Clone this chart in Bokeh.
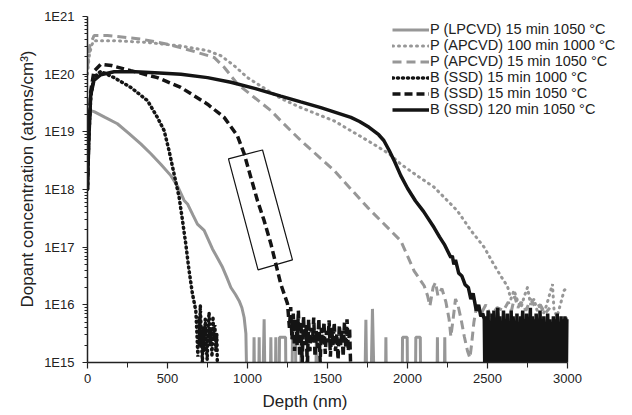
from bokeh.plotting import figure
from bokeh.models import FixedTicker, CustomJSTickFormatter, Legend, LegendItem, Title
from bokeh.embed import file_html
from bokeh.resources import INLINE

# ---------------- data (depth in nm, concentration in atoms/cm3) ----------------
LOW = 1e14  # below detection limit (drawn off the bottom of the axis)

lpcvd_depth = [0, 15, 41, 110, 187, 260, 333, 396, 458, 521, 562, 604, 625, 660, 687, 729, 760, 781,
               815, 844, 870, 896, 925, 948, 965, 979, 990, 1000,
               1036, 1041, 1046, 1068, 1073, 1078, 1092, 1104, 1112, 1140, 1146, 1152, 1172, 1177, 1182,
               1196, 1200, 1238, 1242, 1276, 1281, 1300, 1304, 1330, 1335, 1340, 1370, 1375, 1380,
               1425, 1430, 1435, 1730, 1740, 1748, 1768, 1781, 1796, 1860, 1865, 1870,
               1965, 1969, 1998, 2002, 2048, 2052, 2080, 2084, 2182, 2187, 2192, 2228, 2233, 2238]
lpcvd_conc = [1.41e19, 2.34e19, 2.24e19, 1.78e19, 1.38e19, 9.33e18, 6.17e18, 4.17e18, 2.75e18, 1.74e18,
              1.15e18, 6.46e17, 5.62e17, 3.55e17, 2.51e17, 1.95e17, 1.26e17, 9.33e16,
              6.31e16, 4.47e16, 3.02e16, 2.0e16, 1.51e16, 1.17e16, 8.91e15, 6.03e15, 3.16e15, LOW,
              LOW, 2.75e15, LOW, LOW, 2.75e15, LOW, LOW, 5.6e15, LOW, LOW, 2.75e15, LOW, LOW, 2.75e15, LOW,
              LOW, 2.75e15, 2.75e15, LOW, LOW, 2.75e15, 2.75e15, LOW, LOW, 2.75e15, LOW, LOW, 2.75e15, LOW,
              LOW, 2.75e15, LOW, LOW, 5.5e15, LOW, LOW, 8.5e15, LOW, LOW, 2.75e15, LOW,
              LOW, 2.75e15, 2.75e15, LOW, LOW, 2.75e15, 2.75e15, LOW, LOW, 2.75e15, LOW, LOW, 2.75e15, LOW]

apcvd100_depth = [0, 10, 25, 40, 166, 375, 583, 750, 833, 916, 1000, 1125, 1208, 1333, 1541, 1750, 1885,
                  1958, 2070, 2166, 2312, 2396, 2479, 2531, 2583, 2625, 2646,
                  2666, 2690, 2710, 2730, 2750, 2770, 2791, 2810, 2830, 2850, 2870, 2890, 2906, 2916,
                  2935, 2955, 2979, 3000]
apcvd100_conc = [1.0e20, 2.0e20, 3.16e20, 3.8e20, 3.8e20, 3.55e20, 3.09e20, 2.57e20, 2.09e20, 1.41e20,
                 8.71e19, 5.25e19, 3.8e19, 2.63e19, 1.55e19, 7.08e18, 4.17e18,
                 2.75e18, 1.66e18, 1.1e18, 4.27e17, 1.95e17, 1.0e17, 5.5e16, 3.16e16, 2.09e16, 1.26e16,
                 1.78e16, 1.12e16, 8.91e15, 1.41e16, 2.0e16, 1.0e16, 1.26e16, 7.94e15, 1.0e16, 7.08e15,
                 1.0e16, 1.58e16, 2.29e16, 7.94e15, 6.31e15, 1.0e16, 1.78e16, 2.0e16]

apcvd15_depth = [0, 15, 41, 125, 333, 500, 646, 791, 854, 937, 1041, 1146, 1208, 1333, 1541, 1750, 1958,
                 2041, 2104, 2125, 2140, 2160, 2175, 2190, 2215, 2240, 2260, 2271, 2285, 2300, 2315,
                 2335, 2355, 2375, 2390, 2400, 2415, 2430, 2460, 2490, 2520, 2560, 2600, 2630, 2650,
                 2670, 2690, 2710, 2740, 2770, 2800, 2830, 2860, 2890]
apcvd15_conc = [1.32e20, 3.16e20, 4.68e20, 4.68e20, 4.07e20, 3.31e20, 2.57e20, 1.95e20, 1.32e20, 6.76e19,
                3.98e19, 2.34e19, 1.55e19, 7.08e18, 2.14e18, 4.9e17, 1.29e17,
                3.89e16, 2.14e16, 1.45e16, 9.55e15, 2.0e16, 2.45e16, 1.45e16, 1.91e16, 1.12e16, 5.62e15,
                2.82e15, 5.62e15, 1.26e16, 1.0e16, 5.62e15, 2.82e15, 1.58e15, 1.2e15, 2.0e15, 5.01e15,
                8.91e15, 7.08e15, 1.0e16, 6.31e15, 8.91e15, 7.94e15, 1.12e16, 7.94e15,
                1.41e16, 8.91e15, 1.12e16, 7.94e15, 1.26e16, 8.91e15, 1.0e16, 7.08e15, 8.91e15]

ssd15_1000_depth = [0, 8, 20, 40, 83, 104, 166, 271, 375, 437, 479, 510, 541, 573, 594, 614, 635, 656, 677,
                    684, 690, 695, 700, 705, 712, 718, 724, 730, 736, 742, 748, 754, 760, 766, 772, 778,
                    784, 790, 796, 802, 808, 812]
ssd15_1000_conc = [1.0e18, 7.94e18, 3.98e19, 8.91e19, 1.12e20, 1.05e20, 8.71e19, 5.89e19, 3.47e19, 1.78e19,
                   1.05e19, 4.68e18, 1.86e18, 7.24e17, 2.88e17, 1.15e17, 3.89e16, 1.55e16, 7.94e15,
                   3.16e15, 1.26e15, 6.31e15, 2.0e15, 9.77e15, 2.51e15, 1.0e15, 3.98e15, 1.58e15, 5.62e15,
                   2.0e15, 1.12e15, 3.98e15, 7.41e15, 2.0e15, 3.98e15, 1.26e15, 6.31e15, 2.51e15, 4.47e15,
                   1.58e15, 3.16e15, 7.94e14]

ssd15_1050_depth = [0, 8, 20, 40, 83, 150, 271, 437, 583, 750, 854, 937, 979, 1021, 1062, 1104, 1146, 1177,
                    1208, 1250, 1262, 1270, 1278, 1286, 1294, 1302, 1310, 1318, 1326, 1334, 1342, 1350,
                    1358, 1366, 1374, 1382, 1390, 1398, 1406, 1414, 1422, 1430, 1438, 1446, 1454, 1462,
                    1470, 1478, 1486, 1494, 1502, 1510, 1518, 1526, 1534, 1542, 1550, 1558, 1566, 1574,
                    1582, 1590, 1598, 1606, 1614, 1622, 1630, 1638, 1645]
ssd15_1050_conc = [1.0e18, 7.94e18, 5.01e19, 1.12e20, 1.48e20, 1.41e20, 1.15e20, 8.71e19, 5.89e19, 3.02e19,
                   1.78e19, 8.51e18, 4.17e18, 1.62e18, 6.46e17, 2.88e17, 1.15e17, 5.13e16,
                   2.29e16, 1.05e16, 3.98e15, 9.12e15, 2.51e15, 7.08e15, 1.58e15, 5.62e15, 2.0e15, 7.94e15,
                   1.26e15, 5.01e15, 1.0e15, 6.31e15, 2.0e15, 4.47e15, 7.94e14, 5.62e15, 1.58e15, 3.98e15,
                   2.24e15, 6.03e15, 1.26e15, 3.55e15, 1.78e15, 5.75e15, 1.0e15, 3.98e15, 2.0e15, 5.01e15,
                   1.41e15, 3.55e15, 2.24e15, 5.37e15, 1.26e15, 3.98e15, 2.0e15, 4.9e15, 1.58e15, 3.16e15,
                   1.12e15, 4.47e15, 2.0e15, 3.55e15, 1.26e15, 5.01e15, 1.78e15, 5.62e15, 1.58e15, 3.98e15,
                   7.94e14]

ssd120_depth = [0, 8, 20, 40, 83, 166, 300, 450, 584, 750, 896, 1050, 1208, 1333, 1458, 1646, 1700, 1760,
                1820, 1852, 1885, 1920, 1958, 2000, 2050, 2100, 2166, 2200, 2230, 2271, 2280, 2290, 2300,
                2320, 2340, 2360, 2380, 2396, 2410, 2430, 2445, 2458, 2470,
                2480, 2486, 2492, 2498, 2504, 2510, 2516, 2522, 2528, 2534, 2540, 2546, 2552, 2558, 2564,
                2570, 2576, 2582, 2588, 2594, 2600, 2606, 2612, 2618, 2624, 2630, 2636, 2642, 2648, 2654,
                2660, 2666, 2672, 2678, 2684, 2690, 2696, 2702, 2708, 2714, 2720, 2726, 2732, 2738, 2744,
                2750, 2756, 2762, 2768, 2774, 2780, 2786, 2792, 2798, 2804, 2810, 2816, 2822, 2828, 2834,
                2840, 2846, 2852, 2858, 2864, 2870, 2876, 2882, 2888, 2894, 2900, 2906, 2912, 2918, 2924,
                2930, 2936, 2942, 2948, 2954, 2960, 2966, 2972, 2978, 2984, 2990, 2996, 3000]
ssd120_conc = [1.0e18, 7.08e18, 4.27e19, 7.76e19, 9.77e19, 1.1e20, 1.1e20, 1.05e20, 1.0e20, 8.71e19,
               7.24e19, 5.62e19, 4.17e19, 3.31e19, 2.63e19, 1.78e19, 1.51e19, 1.2e19,
               8.91e18, 7.08e18, 4.79e18, 3.02e18, 1.74e18, 1.05e18, 6.31e17, 4.17e17, 2.19e17, 1.51e17,
               1.12e17, 6.61e16, 7.08e16, 5.01e16, 6.03e16, 3.55e16, 3.16e16, 2.24e16, 2.0e16, 1.26e16,
               1.58e16, 7.94e15, 1.0e16, 6.31e15, 7.08e15,
               5.62e15, LOW, 6.31e15, 2.0e15, 7.94e15, LOW, 5.01e15, 1.58e15, 7.08e15, LOW, 7.94e15, 2.51e15,
               5.62e15, LOW, 8.91e15, 3.16e15, 6.31e15, LOW, 5.01e15, 2.0e15, 7.94e15, LOW, 5.62e15, 2.51e15,
               7.08e15, LOW, 5.01e15, 1.58e15, 7.94e15, LOW, 6.31e15, 3.16e15, 4.47e15, LOW, 7.08e15, 2.0e15,
               5.01e15, LOW, 6.31e15, 2.82e15, 7.94e15, LOW, 5.62e15, 2.0e15, 7.08e15, LOW, 5.01e15, 2.51e15,
               8.91e15, LOW, 6.31e15, 1.58e15, 5.62e15, LOW, 7.08e15, 3.16e15, 5.01e15, LOW, 7.94e15, 2.24e15,
               5.62e15, LOW, 6.31e15, 2.51e15, 4.47e15, LOW, 7.08e15, 2.0e15, 5.62e15, LOW, 5.01e15, 2.82e15,
               6.31e15, LOW, 5.62e15, 2.0e15, 7.08e15, LOW, 5.01e15, 2.51e15, 6.31e15, LOW, 5.62e15, 2.24e15,
               6.31e15, LOW, 5.62e15, 5.62e15]

# annotation box around the B (SSD) 15 min 1050 °C tail
box_depth = [881, 1094, 1281, 1066, 881]
box_conc = [3.39e18, 4.84e18, 6.03e16, 4.03e16, 3.39e18]

series_names = ["P (LPCVD) 15 min 1050 °C", "P (APCVD) 100 min 1000 °C", "P (APCVD) 15 min 1050 °C",
                "B (SSD) 15 min 1000 °C", "B (SSD) 15 min 1050 °C", "B (SSD) 120 min 1050 °C"]

x_ticks = [0, 500, 1000, 1500, 2000, 2500, 3000]
x_minor = [250, 750, 1250, 1750, 2250, 2750]
y_ticks = [1e15, 1e16, 1e17, 1e18, 1e19, 1e20, 1e21]

# ---------------- figure ----------------
GRAY = "#979797"
BLACK = "#141414"
TXT = "#222222"
FONT = "Liberation Sans"

p = figure(width=632, height=415, output_backend="svg", toolbar_location=None,
           x_range=(0, 3375), y_range=(1e15, 1e21), y_axis_type="log",
           min_border_left=87, min_border_right=5, min_border_top=16, min_border_bottom=53)
p.outline_line_color = None
p.grid.visible = False
p.background_fill_color = "white"
p.border_fill_color = "white"

y_minor = [m * t for t in y_ticks[:-1] for m in range(2, 10)]

xa = p.xaxis[0]
ya = p.yaxis[0]
for ax in (xa, ya):
    ax.axis_line_color = TXT
    ax.axis_line_width = 1.5
    ax.major_tick_line_color = TXT
    ax.minor_tick_line_color = TXT
    ax.major_tick_line_width = 1.2
    ax.minor_tick_line_width = 1
    ax.major_tick_in = 0
    ax.minor_tick_in = 0
    ax.major_label_text_font = FONT
    ax.major_label_text_font_size = "13px"
    ax.major_label_text_color = TXT

xa.ticker = FixedTicker(ticks=x_ticks, minor_ticks=x_minor)
xa.bounds = (0, 3000)
xa.major_tick_out = 6
xa.minor_tick_out = 5
xa.major_label_standoff = 5

ya.ticker = FixedTicker(ticks=y_ticks, minor_ticks=y_minor)
ya.formatter = CustomJSTickFormatter(code="return '1E' + Math.round(Math.log10(tick));")
ya.major_tick_out = 5
ya.minor_tick_out = 3
ya.major_label_standoff = 8

# axis titles (placed as side titles so they can sit off-centre like the original)
p.add_layout(Title(text="Dopant concentration (atoms/cm³)", align="left", offset=55, standoff=10,
                   text_font=FONT, text_font_size="17px", text_font_style="normal",
                   text_color=TXT), "left")
p.add_layout(Title(text="Depth (nm)", align="left", offset=175, standoff=8,
                   text_font=FONT, text_font_size="17px", text_font_style="normal",
                   text_color=TXT), "below")

# ---------------- series ----------------
r1 = p.line(lpcvd_depth, lpcvd_conc, line_color=GRAY, line_width=3)
r2 = p.line(apcvd100_depth, apcvd100_conc, line_color=GRAY, line_width=3, line_dash="1 5", line_cap="round")
r3 = p.line(apcvd15_depth, apcvd15_conc, line_color=GRAY, line_width=3, line_dash="9 5")
r4 = p.line(ssd15_1000_depth, ssd15_1000_conc, line_color=BLACK, line_width=3.5, line_dash="1 4", line_cap="round")
r5 = p.line(ssd15_1050_depth, ssd15_1050_conc, line_color=BLACK, line_width=3.5, line_dash="8 4")
r6 = p.line(ssd120_depth, ssd120_conc, line_color=BLACK, line_width=3.5)

p.patch(box_depth, box_conc, fill_color=None, line_color=BLACK, line_width=1.2)

legend = Legend(items=[LegendItem(label=n, renderers=[r]) for n, r in zip(series_names, [r1, r2, r3, r4, r5, r6])],
                location=(305, 245), orientation="vertical", border_line_color=None,
                background_fill_alpha=0, padding=0, spacing=-1, margin=0,
                glyph_width=37, glyph_height=15, label_height=15, label_standoff=1,
                label_text_font=FONT, label_text_font_size="14.5px", label_text_color=TXT)
p.add_layout(legend)

open("out.html", "w").write(file_html(p, INLINE))
